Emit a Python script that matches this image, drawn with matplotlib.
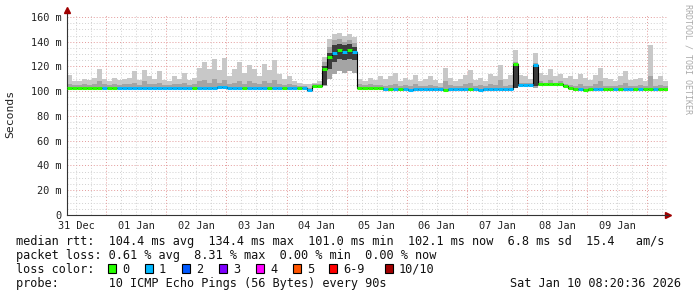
import numpy as np
import matplotlib.pyplot as plt
from matplotlib.patches import Rectangle

# time axis: hours since 31 Dec 00:00, 2 hour bins from 08:20 to 10 Jan 08:20
t_start = 8.333
bin_h = 2.0

# median rtt per bin (ms)
median = [
    103, 103, 103, 103, 103, 103, 103, 103, 102.5, 103, 103, 102.5,
    103, 103, 102.5, 103, 103, 103, 103, 103, 103, 103, 103, 103,
    103, 103, 103, 103, 103, 103, 103.5, 103.5, 103, 103, 103, 103,
    103, 103, 103, 103, 103, 103, 103, 103, 103, 103, 103, 102.5,
    101, 104, 104, 118, 128, 131, 133, 132, 133, 131.5,
    103, 103, 103, 103, 102.5,
    101.5, 101.5, 102, 101.5, 101.5, 101, 101.5, 101.5, 102, 101.5, 101.5, 101.5, 101,
    101.5, 101.5, 102, 101.5, 101.5, 101.5, 101, 101.5, 101.5, 101.5, 102, 101.5, 101.5,
    122, 105, 105, 105, 121,
    105.5, 105.5, 105.5, 105.5, 105.5, 104.5,
    102.5, 101.5, 101.5, 101, 101.5, 101.5, 102, 101.5, 101.5, 102,
    101.5, 102, 102, 101.5, 102, 102, 102, 101.5, 101.5, 102,
]

# loss per bin (pings lost of 10)
loss = [
    0, 0, 0, 0, 0, 0, 0, 1, 0, 0, 1, 1,
    1, 1, 1, 1, 1, 1, 1, 1, 1, 1, 1, 1,
    1, 0, 1, 1, 1, 1, 1, 1, 1, 1, 1, 0,
    1, 1, 1, 1, 0, 1, 1, 0, 1, 1, 0, 1,
    1, 0, 0, 0, 0, 1, 0, 1, 0, 1,
    0, 0, 0, 0, 0,
    1, 0, 1, 0, 1, 1, 1, 1, 1, 1, 1, 1, 0,
    1, 1, 1, 1, 0, 1, 1, 1, 1, 1, 1, 1, 1,
    0, 1, 1, 1, 1,
    0, 0, 0, 0, 0, 0,
    0, 0, 1, 0, 0, 1, 1, 0, 0, 1,
    0, 1, 1, 0, 1, 0, 0, 1, 0, 0,
]

# smoke: lowest ping, upper ping (light grey), inner band top (mid grey)
smoke_lo = [
    102, 102, 102, 102, 102, 102, 102, 102, 101.5, 102, 102, 101.5,
    102, 102, 101.5, 102, 102, 102, 102, 102, 102, 102, 102, 102,
    102, 102, 102, 102, 102, 102, 102.5, 102.5, 102, 102, 102, 102,
    102, 102, 102, 102, 102, 102, 102, 102, 102, 102, 102, 101.5,
    100, 103, 103, 104, 110, 114, 116, 115, 116, 115,
    102, 102, 102, 102, 101.5,
    100.5, 100.5, 101, 100.5, 100.5, 100, 100.5, 100.5, 101, 100.5, 100.5, 100.5, 100,
    100.5, 100.5, 101, 100.5, 100.5, 100.5, 100, 100.5, 100.5, 100.5, 101, 100.5, 100.5,
    102.5, 104, 104, 104, 103,
    104.5, 104.5, 104.5, 104.5, 104.5, 103.5,
    101.5, 100.5, 100.5, 100, 100.5, 100.5, 101, 100.5, 100.5, 101,
    100.5, 101, 101, 100.5, 101, 101, 101, 100.5, 100.5, 101,
]
smoke_hi = [
    113, 108, 108, 110, 109, 111, 118, 110, 108, 111, 109, 110,
    111, 116, 109, 117, 112, 110, 116, 109, 108, 112, 110, 115,
    109, 111, 119, 124, 118, 126, 117, 127, 112, 118, 124, 115,
    121, 118, 112, 122, 117, 125, 114, 110, 112, 108, 107, 106,
    106, 107, 108, 128, 142, 146, 147, 145, 146, 144,
    110, 108, 111, 109, 112,
    110, 112, 115, 108, 111, 109, 113, 108, 110, 112, 109, 107, 119,
    111, 108, 110, 113, 117, 109, 111, 108, 114, 112, 121, 110, 113,
    133, 113, 112, 110, 131,
    115, 113, 118, 112, 114, 111,
    112, 110, 114, 111, 109, 113, 119, 111, 110, 108,
    112, 116, 109, 110, 111, 108, 137, 110, 112, 108,
]
mid_hi = [
    106, 105, 105, 106, 105, 106, 108, 106, 105, 106, 105, 106,
    106, 107, 105, 108, 106, 106, 107, 105, 105, 106, 106, 107,
    105, 106, 108, 109, 107, 110, 107, 109, 106, 107, 108, 106,
    108, 107, 106, 108, 107, 109, 106, 105, 106, 105, 104.5, 104,
    103, 105.5, 106, 124, 136, 141, 142, 140, 141, 139,
    105.5, 105, 106, 105, 105,
    104, 105, 106, 104, 105, 104, 106, 104, 104.5, 105, 104, 103.5, 108,
    105, 104, 104.5, 106, 107, 104, 105, 104, 106, 105, 109, 104, 105,
    124, 107, 107, 106.5, 123,
    108, 107, 109, 107, 108, 106,
    105, 104, 106, 104.5, 104, 105.5, 108, 104.5, 104, 104,
    105, 107, 104, 104.5, 105, 104, 112, 104.5, 105, 104,
]

# dark core of the smoke, only where it shows
core_bins = [51, 52, 53, 54, 55, 56, 57, 89, 93]
core_lo = [105, 118, 124, 126, 125, 126, 125, 103, 104]
core_hi = [120, 131, 137, 138, 137, 138, 136, 122, 121]

loss_labels = ['0', '1', '2', '3', '4', '5', '6-9', '10/10']
loss_colors = ['#26ff00', '#00b8ff', '#0059ff', '#7e00ff', '#ff00ff',
               '#ff5500', '#ff0000', '#a10000']

day_labels = ['31 Dec', '01 Jan', '02 Jan', '03 Jan', '04 Jan',
              '05 Jan', '06 Jan', '07 Jan', '08 Jan', '09 Jan']
y_ticks = [0, 20, 40, 60, 80, 100, 120, 140, 160]

mono = 'DejaVu Sans Mono'

n = len(median)
edges = t_start + bin_h * np.arange(n + 1)
t_end = edges[-1]

def stepped(a):
    return np.append(a, a[-1])

fig = plt.figure(figsize=(6.97, 2.97), dpi=100)
fig.patch.set_facecolor('white')
ax = fig.add_axes([67 / 697, 82 / 297, 601 / 697, 201 / 297])
ax.set_xlim(t_start, t_end)
ax.set_ylim(0, 162.4)

# grid
for h in np.arange(6, t_end, 6):
    if h % 24:
        ax.axvline(h, color='#d0d0d0', lw=0.7, ls=(0, (1, 2)), zorder=0)
for y in np.arange(5, 165, 5):
    if y % 20:
        ax.axhline(y, color='#d0d0d0', lw=0.7, ls=(0, (1, 2)), zorder=0)
for h in np.arange(24, t_end, 24):
    ax.axvline(h, color='#e39a9a', lw=0.7, ls=(0, (1, 2)), zorder=0)
for y in y_ticks[1:]:
    ax.axhline(y, color='#e39a9a', lw=0.7, ls=(0, (1, 2)), zorder=0)

# smoke
ax.fill_between(edges, stepped(smoke_lo), stepped(smoke_hi), step='post',
                color='#c8c8c8', lw=0, zorder=1)
ax.fill_between(edges, stepped(smoke_lo), stepped(mid_hi), step='post',
                color='#a4a4a4', lw=0, zorder=2)
for b, lo, hi in zip(core_bins, core_lo, core_hi):
    ax.fill_between([edges[b], edges[b + 1]], lo, hi, color='#3c3c3c',
                    lw=0, zorder=3)

# median line coloured by loss
ax.step(edges, stepped(median), where='post', color='black', lw=0.8, zorder=4)
for i in range(n):
    ax.hlines(median[i], edges[i], edges[i + 1], color=loss_colors[loss[i]],
              lw=2.2, zorder=5)

# axes
for s in ['top', 'right']:
    ax.spines[s].set_visible(False)
ax.spines['left'].set_color('#333333')
ax.spines['bottom'].set_color('#333333')
ax.plot([1], [0], '>', color='#a00000', ms=4, transform=ax.transAxes, clip_on=False)
ax.plot([0], [1.02], '^', color='#a00000', ms=4, transform=ax.transAxes, clip_on=False)

ax.set_yticks(y_ticks)
ax.set_yticklabels(['0'] + ['%d m' % v for v in y_ticks[1:]])
ax.set_xticks([12 + 24 * k for k in range(len(day_labels))])
ax.set_xticklabels(day_labels)
ax.tick_params(axis='both', length=0, labelsize=7.4, pad=4, colors='#222222')
for lbl in ax.get_xticklabels() + ax.get_yticklabels():
    lbl.set_family(mono)

fig.text(10 / 697, 1 - 114 / 297, 'Seconds', rotation=90, family=mono,
         fontsize=8.2, ha='center', va='center', color='#222222')
fig.text(688 / 697, 1 - 4 / 297, 'RRDTOOL / TOBI OETIKER', rotation=270,
         family=mono, fontsize=6, ha='center', va='top', color='#aaaaaa')

# legend block
fs = 8.55
x0 = 16 / 697
fig.text(x0, 1 - 245 / 297, 'median rtt:  104.4 ms avg  134.4 ms max  101.0 ms min'
         '  102.1 ms now  6.8 ms sd  15.4   am/s', family=mono, fontsize=fs,
         va='baseline', color='#111111')
fig.text(x0, 1 - 259 / 297, 'packet loss: 0.61 % avg  8.31 % max  0.00 % min  0.00 % now',
         family=mono, fontsize=fs, va='baseline', color='#111111')
fig.text(x0, 1 - 273 / 297, 'loss color:', family=mono, fontsize=fs,
         va='baseline', color='#111111')
sw_x = [108, 145, 182, 219, 256, 293, 329, 385]
for xs, lab, col in zip(sw_x, loss_labels, loss_colors):
    fig.patches.append(Rectangle((xs / 697, 1 - 273 / 297), 8 / 697, 9 / 297,
                                 transform=fig.transFigure, facecolor=col,
                                 edgecolor='black', lw=0.8))
    fig.text((xs + 14) / 697, 1 - 273 / 297, lab, family=mono, fontsize=fs,
             va='baseline', color='#111111')
fig.text(x0, 1 - 287 / 297, 'probe:       10 ICMP Echo Pings (56 Bytes) every 90s',
         family=mono, fontsize=fs, va='baseline', color='#111111')
fig.text(681 / 697, 1 - 287 / 297, 'Sat Jan 10 08:20:36 2026', family=mono,
         fontsize=fs, va='baseline', ha='right', color='#111111')

fig.savefig('out.png', dpi=100, facecolor='white')
